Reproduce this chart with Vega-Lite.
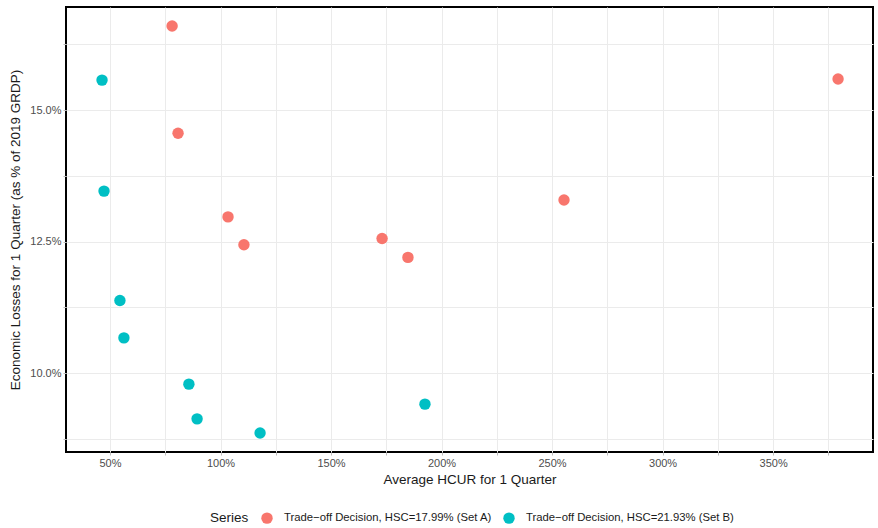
{
  "$schema": "https://vega.github.io/schema/vega-lite/v6.json",
  "width": 807,
  "height": 445,
  "autosize": {"type": "none"},
  "padding": {"left": 66, "top": 7, "right": 5, "bottom": 76},
  "background": "white",
  "data": {
    "values": [
      {"x": 78.1, "y": 16.60, "series": "Trade\u2212off Decision, HSC=17.99% (Set A)"},
      {"x": 80.8, "y": 14.56, "series": "Trade\u2212off Decision, HSC=17.99% (Set A)"},
      {"x": 103.4, "y": 12.97, "series": "Trade\u2212off Decision, HSC=17.99% (Set A)"},
      {"x": 110.6, "y": 12.44, "series": "Trade\u2212off Decision, HSC=17.99% (Set A)"},
      {"x": 173.1, "y": 12.56, "series": "Trade\u2212off Decision, HSC=17.99% (Set A)"},
      {"x": 184.8, "y": 12.20, "series": "Trade\u2212off Decision, HSC=17.99% (Set A)"},
      {"x": 255.4, "y": 13.29, "series": "Trade\u2212off Decision, HSC=17.99% (Set A)"},
      {"x": 379.4, "y": 15.59, "series": "Trade\u2212off Decision, HSC=17.99% (Set A)"},
      {"x": 46.4, "y": 15.57, "series": "Trade\u2212off Decision, HSC=21.93% (Set B)"},
      {"x": 47.3, "y": 13.46, "series": "Trade\u2212off Decision, HSC=21.93% (Set B)"},
      {"x": 54.5, "y": 11.38, "series": "Trade\u2212off Decision, HSC=21.93% (Set B)"},
      {"x": 56.3, "y": 10.67, "series": "Trade\u2212off Decision, HSC=21.93% (Set B)"},
      {"x": 85.7, "y": 9.79, "series": "Trade\u2212off Decision, HSC=21.93% (Set B)"},
      {"x": 89.4, "y": 9.13, "series": "Trade\u2212off Decision, HSC=21.93% (Set B)"},
      {"x": 117.9, "y": 8.86, "series": "Trade\u2212off Decision, HSC=21.93% (Set B)"},
      {"x": 192.5, "y": 9.41, "series": "Trade\u2212off Decision, HSC=21.93% (Set B)"}
    ]
  },
  "mark": {"type": "circle", "size": 130, "opacity": 1},
  "encoding": {
    "x": {
      "field": "x", "type": "quantitative",
      "title": "Average HCUR for 1 Quarter",
      "scale": {"domain": [30.1, 395.2], "nice": false, "zero": false},
      "axis": {
        "values": [50, 75, 100, 125, 150, 175, 200, 225, 250, 275, 300, 325, 350, 375],
        "labelExpr": "datum.value % 50 === 0 ? datum.value + '%' : ''"
      }
    },
    "y": {
      "field": "y", "type": "quantitative",
      "title": "Economic Losses for 1 Quarter (as % of 2019 GRDP)",
      "scale": {"domain": [8.5, 16.96], "nice": false, "zero": false},
      "axis": {
        "values": [8.75, 10, 11.25, 12.5, 13.75, 15, 16.25],
        "labelExpr": "(datum.value * 10) % 25 === 0 ? format(datum.value, '.1f') + '%' : ''"
      }
    },
    "color": {
      "field": "series", "type": "nominal", "title": "Series",
      "scale": {"range": ["#F8766D", "#00BFC4"]},
      "legend": {
        "orient": "none", "direction": "horizontal", "titleOrient": "left",
        "legendX": 144, "legendY": 505,
        "symbolType": "circle", "symbolSize": 130, "symbolStrokeWidth": 0,
        "columnPadding": 11, "labelOffset": 11, "labelLimit": 0
      }
    }
  },
  "config": {
    "font": "Liberation Sans",
    "view": {"stroke": "black", "strokeWidth": 2},
    "axis": {
      "domain": false,
      "gridColor": "#ebebeb", "gridWidth": 1,
      "tickColor": "#bdbdbd", "tickSize": 3,
      "labelColor": "#4d4d4d", "labelFontSize": 11, "labelPadding": 2,
      "titleColor": "#1a1a1a", "titleFontSize": 13.5, "titleFontWeight": "normal"
    },
    "axisX": {"titlePadding": 4},
    "axisY": {"titlePadding": 7},
    "legend": {
      "titleFontSize": 13.5, "titleFontWeight": "normal", "titleColor": "#1a1a1a",
      "labelFontSize": 11.3, "labelColor": "#1a1a1a", "titlePadding": 12
    }
  }
}
